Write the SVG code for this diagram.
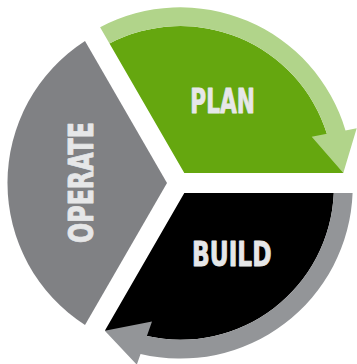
<svg xmlns="http://www.w3.org/2000/svg" width="357" height="364" viewBox="0 0 357 364">
<style>
.lbl{font-family:"Liberation Sans Narrow","DejaVu Sans Condensed","Liberation Sans",sans-serif;font-weight:bold;font-size:34.5px;fill:#e6e7e8;stroke:#e6e7e8;stroke-width:0.9px;stroke-linejoin:round}
.arrow-green{fill:#b1d48a}
.arrow-gray{fill:#939598}
</style>
<rect width="357" height="364" fill="#ffffff"/>
<g id="node-operate">
<path d="M85,40.9 A169,169 0 0 0 85,325.1 L167,183 Z" fill="#808184"/>
<text class="lbl" transform="translate(93,243) rotate(-90)" textLength="121" lengthAdjust="spacingAndGlyphs">OPERATE</text>
</g>
<g id="node-plan">
<path d="M184.3,173 L109.5,43.5 A153.4,153.4 0 0 1 326.9,133.85 L343.3,173 Z" fill="#65a70f"/>
<text class="lbl" x="190.3" y="113" textLength="64.5" lengthAdjust="spacingAndGlyphs">PLAN</text>
</g>
<g id="node-build">
<path d="M184.3,193 L333.8,193 A153.4,153.4 0 0 1 146.9,336.1 L104.8,330.7 Z" fill="#000000"/>
<text class="lbl" x="192" y="266.4" textLength="79.5" lengthAdjust="spacingAndGlyphs">BUILD</text>
</g>
<g id="connectors">
<path id="arrow-plan-build" class="arrow-green" d="M100.1,27.2 A172.2,172.2 0 0 1 345.5,130.4 L356.7,128.3 L343.3,173 L311.7,136.7 L326.9,133.85 A153.4,153.4 0 0 0 109.5,43.5 Z"/>
<path id="arrow-build-operate" class="arrow-gray" d="M352.6,193 A172.2,172.2 0 0 1 140.55,353.9 L136.8,364.7 L104.8,330.7 L152,321.5 L146.9,336.1 A153.4,153.4 0 0 0 333.8,193 Z"/>
</g>
</svg>
